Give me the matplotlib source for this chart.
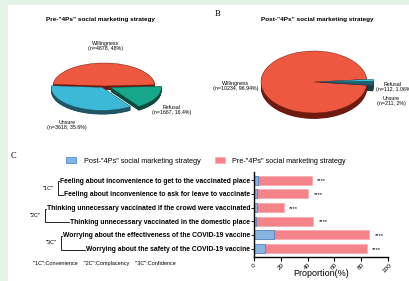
import matplotlib
matplotlib.use("Agg")
import matplotlib.pyplot as plt
from matplotlib.lines import Line2D
from matplotlib.patches import Rectangle

plt.rcParams['font.family'] = ['Liberation Sans', 'DejaVu Sans']

# ---- data ----
pre_labels = ["Willingness", "Unsure", "Refusal"]
pre_counts = [4878, 3618, 1667]
pre_pct = ["48%", "35.6%", "16.4%"]

post_labels = ["Willingness", "Unsure", "Refusal"]
post_counts = [10234, 211, 112]
post_pct = ["96.94%", "2%", "1.06%"]

items = [
    "Feeling about inconvenience to get to the vaccinated place",
    "Feeling about inconvenience to ask for leave to vaccinate",
    "Thinking unnecessary vaccinated if the crowd were vaccinated",
    "Thinking unnecessary vaccinated in the domestic place",
    "Worrying about the effectiveness of the COVID-19 vaccine",
    "Worrying about the safety of the COVID-19 vaccine",
]
groups = ['"1C"', '"2C"', '"3C"']
pre_vals = [43.0, 40.5, 22.3, 44.3, 86.3, 84.3]
post_vals = [2.5, 1.8, 2.2, 1.0, 14.8, 8.3]
sig = ["****"] * 6

W, H = 409, 281
fig = plt.figure(figsize=(W / 100, H / 100), dpi=100)
fig.patch.set_facecolor("#e5f2e8")
fig.patches.append(Rectangle((8 / W, 0), 1, 1 - 5 / H, transform=fig.transFigure,
                             facecolor="white", edgecolor="none", zorder=-1))


def fx(px):
    return px / W


def fy(py):
    return 1 - py / H


def pie3d(cx, cy, a, b, vals, top_cols, side_cols, explode, start, depth, lim=1.6):
    ax = fig.add_axes([fx(cx - lim * a), fy(cy + lim * b), 2 * lim * a / W, 2 * lim * b / H])
    n = 12
    for k in range(n, 0, -1):
        d = depth * k / n
        ax.pie(vals, colors=side_cols, explode=explode, startangle=start,
               center=(0, -d), wedgeprops=dict(linewidth=0))
    ws, _ = ax.pie(vals, colors=top_cols, explode=explode, startangle=start,
                   wedgeprops=dict(linewidth=0.3))
    for w, c in zip(ws, side_cols):
        w.set_edgecolor(c)
    ax.set_aspect("auto")
    ax.set_xlim(-lim, lim)
    ax.set_ylim(-lim, lim)
    ax.axis("off")
    ax.patch.set_visible(False)
    return ax


# ---- panel A ----
pie3d(104, 86, 51, 23, pre_counts,
      ["#ee5840", "#3bb9d6", "#16a68a"],
      ["#6e1a0e", "#1f5565", "#0d4a3d"],
      [0, 0.07, 0.14], 3, 0.18)
fig.text(fx(100), fy(19), 'Pre-"4Ps" social marketing strategy', ha="center", va="center",
         fontsize=4.6, fontweight="bold")
fig.text(fx(106), fy(46), f"{pre_labels[0]}\n(n={pre_counts[0]}, {pre_pct[0]})",
         ha="center", va="center", fontsize=3.8, linespacing=1.2)
fig.text(fx(172), fy(110), f"{pre_labels[2]}\n(n={pre_counts[2]}, {pre_pct[2]})",
         ha="center", va="center", fontsize=3.8, linespacing=1.2)
fig.text(fx(67), fy(125), f"{pre_labels[1]}\n(n={pre_counts[1]}, {pre_pct[1]})",
         ha="center", va="center", fontsize=3.8, linespacing=1.2)

# ---- panel B ----
pie3d(314, 82, 53, 31, post_counts,
      ["#ee5840", "#1f6070", "#3cc3dc"],
      ["#6e1a0e", "#173f4a", "#1f5565"],
      [0, 0.12, 0.12], 5, 0.19)
fig.text(fx(218), fy(14), "B", fontsize=6, family="Liberation Serif", ha="center", va="center")
fig.text(fx(317), fy(19), 'Post-"4Ps" social marketing strategy', ha="center", va="center",
         fontsize=4.6, fontweight="bold")
fig.text(fx(236), fy(86), f"{post_labels[0]}\n(n={post_counts[0]}, {post_pct[0]})",
         ha="center", va="center", fontsize=3.8, linespacing=1.2)
fig.text(fx(393), fy(87), f"{post_labels[2]}\n(n={post_counts[2]}, {post_pct[2]}",
         ha="center", va="center", fontsize=3.8, linespacing=1.2)
fig.text(fx(391), fy(101), f"{post_labels[1]}\n(n={post_counts[1]}, {post_pct[1]})",
         ha="center", va="center", fontsize=3.8, linespacing=1.2)

# ---- panel C ----
fig.text(fx(13), fy(156), "C", fontsize=6, family="Liberation Serif", ha="center", va="center")
ax = fig.add_axes([fx(254.3), fy(256.7), (387.7 - 254.3) / W, (256.7 - 172) / H])
y = list(range(len(items)))
b_pre = ax.barh(y, pre_vals, height=0.64, color="#f4848a", edgecolor="#f7a2a6", linewidth=0.4,
                label='Pre-"4Ps" social marketing strategy')
b_post = ax.barh(y, post_vals, height=0.64, color="#85b3e2", edgecolor="#3f7fc8", linewidth=0.5,
                 label='Post-"4Ps" social marketing strategy')
for yi, v, s in zip(y, pre_vals, sig):
    ax.text(v + 4, yi + 0.05, s, fontsize=4.2, va="center", ha="left")
ax.set_xlim(0, 100)
ax.set_ylim(len(items) - 0.4, -0.6)
ax.set_yticks(y)
ax.set_yticklabels(items, fontsize=4.9, fontweight="bold")
ax.set_xticks([0, 20, 40, 60, 80, 100])
ax.set_xticklabels(["0", "20", "40", "60", "80", "100"], rotation=45, fontsize=4.6,
                   ha="center", va="top")
ax.tick_params(axis="y", length=2, width=0.6, pad=1)
ax.tick_params(axis="x", length=3, width=0.8, pad=1)
for sp in ["top", "right"]:
    ax.spines[sp].set_visible(False)
ax.spines["left"].set_linewidth(1.0)
ax.spines["bottom"].set_linewidth(1.0)
ax.set_xlabel("Proportion(%)", fontsize=6.5)
ax.xaxis.label.set_va("center")
ax.xaxis.set_label_coords(0.5, -(274 - 256.7) / (256.7 - 172))

fig.legend(handles=[b_post, b_pre], loc="center", bbox_to_anchor=(fx(206), fy(161)),
           ncol=2, frameon=False, fontsize=5.2, handlelength=1.4, handleheight=0.7,
           columnspacing=2.0, handletextpad=1.0, borderpad=0, borderaxespad=0)

fig.text(fx(33), fy(263), '"1C":Convenience    "2C":Complacency    "3C":Confidence',
         fontsize=4.0, ha="left", va="center")

# brackets grouping the item labels
fig.canvas.draw()
r = fig.canvas.get_renderer()
labs = ax.get_yticklabels()
lw = 0.6
for g, (i0, i1) in zip(groups, [(0, 1), (2, 3), (4, 5)]):
    e0 = labs[i0].get_window_extent(r)
    e1 = labs[i1].get_window_extent(r)
    y0 = (e0.y0 + e0.y1) / 2
    y1 = (e1.y0 + e1.y1) / 2
    bx = min(e0.x0, e1.x0) - 2
    fig.add_artist(Line2D([(e0.x0 - 1) / W, bx / W, bx / W, (e1.x0 - 1) / W],
                          [y0 / H, y0 / H, y1 / H, y1 / H],
                          transform=fig.transFigure, color="black", lw=lw))
    fig.text((bx - 4) / W, (y0 + y1) / 2 / H, g, fontsize=4.0, ha="right", va="center")

fig.savefig("out.png", dpi=100)
